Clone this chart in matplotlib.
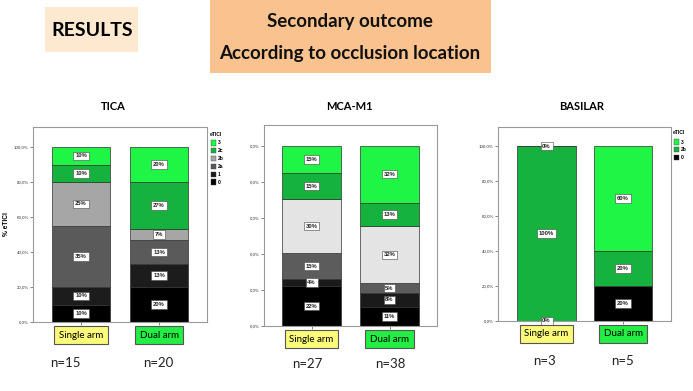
import numpy as np
import matplotlib.pyplot as plt
from matplotlib.patches import Rectangle

W, H = 693, 391

arms = ["Single arm", "Dual arm"]
arm_colors = ["#fbfb7a", "#22ee44"]

# TICA
tica_grades = ["0", "1", "2a", "2b", "2c", "3"]
tica_single = [10, 10, 35, 25, 10, 10]
tica_dual = [20, 13.3, 13.3, 6.7, 26.7, 20]
tica_n = [15, 20]
tica_colors = ["#000000", "#1c1c1c", "#5a5a5a", "#a6a6a6", "#16b23e", "#1ff545"]

# MCA-M1
mca_grades = ["0", "1", "2a", "2b", "2c", "3"]
mca_single = [22.2, 3.7, 14.8, 29.6, 14.8, 14.8]
mca_dual = [10.53, 7.9, 5.3, 31.6, 13.2, 31.6]
mca_n = [27, 38]
mca_colors = ["#000000", "#1a1a1a", "#5c5c5c", "#e4e4e4", "#16b23e", "#1ff545"]

# BASILAR
bas_grades = ["0", "2b", "3"]
bas_single = [0, 100, 0]
bas_dual = [20, 20, 60]
bas_n = [3, 5]
bas_colors = ["#000000", "#16b23e", "#1ff545"]

yticks = [0, 20, 40, 60, 80, 100]
full_ticklabels = ["0,0%", "20,0%", "40,0%", "60,0%", "80,0%", "100,0%"]
cut_ticklabels = ["0,0%"] * 6   # left part hidden behind the TICA picture

fig = plt.figure(figsize=(W / 100, H / 100), dpi=100)
fig.patch.set_facecolor("white")
slide_font = ["Lato", "DejaVu Sans"]
spss_font = ["Liberation Sans", "DejaVu Sans"]


def px_axes(x0, y0, x1, y1):
    return fig.add_axes([x0 / W, 1 - y1 / H, (x1 - x0) / W, (y1 - y0) / H])


def panel(frame, y100, centers, bw, grades, single, dual, colors, ticklabels,
          legend_xy=None, ylabel=None):
    x0, y0, x1, y1 = frame
    ax = px_axes(x0, y0, x1, y1)
    ytop = 100 * (y1 - y0) / (y1 - y100)
    step = centers[1] - centers[0]
    ax.set_ylim(0, ytop)
    ax.set_xlim(-(centers[0] - x0) / step, 1 + (x1 - centers[1]) / step)
    width = bw / step
    for i, vals in enumerate([single, dual]):
        bottom = 0
        for v, c in zip(vals, colors):
            ax.bar(i, v, width, bottom=bottom, color=c, edgecolor="#303030",
                   linewidth=0.5)
            ax.text(i, bottom + v / 2, f"{round(v)}%", ha="center", va="center",
                    fontsize=4.2, fontweight="bold", family=spss_font,
                    color="#222222",
                    bbox=dict(boxstyle="square,pad=0.3", fc="white",
                              ec="#444444", lw=0.4))
            bottom += v
        ax.annotate(arms[i], xy=(i, 0), xycoords=("data", "axes fraction"),
                    xytext=(0, -13), textcoords="offset pixels",
                    ha="center", va="center", fontsize=7, family=slide_font,
                    bbox=dict(boxstyle="square,pad=0.5", fc=arm_colors[i],
                              ec="#555555", lw=0.8))
    ax.set_yticks(yticks)
    ax.set_yticklabels(ticklabels, fontsize=3.2, family=spss_font)
    ax.set_xticks([0, 1])
    ax.set_xticklabels([])
    ax.tick_params(length=2, width=0.5, pad=1, colors="#555555",
                   labelcolor="#333333")
    for s in ax.spines.values():
        s.set_color("#9a9a9a")
        s.set_linewidth(0.8)
    if ylabel:
        ax.set_ylabel(ylabel, fontsize=4.8, fontweight="bold",
                      family=spss_font, labelpad=3)
    if legend_xy:
        lx, ly = legend_xy
        fig.text(lx / W, 1 - ly / H, "eTICI", fontsize=3.6, fontweight="bold",
                 family=spss_font, ha="left", va="center")
        for k, (g, c) in enumerate(zip(grades[::-1], colors[::-1])):
            yy = ly + 9 + k * 7.8
            fig.patches.append(Rectangle(((lx + 1) / W, 1 - (yy + 2.6) / H),
                                         5.2 / W, 5.2 / H, fc=c, ec="#444444",
                                         lw=0.3, transform=fig.transFigure))
            fig.text((lx + 7.5) / W, 1 - yy / H, g, fontsize=3.6,
                     fontweight="bold", family=spss_font, ha="left",
                     va="center")
    return ax


panel((33, 127, 207, 322), 147, [81, 159], 58, tica_grades, tica_single,
      tica_dual, tica_colors, full_ticklabels, legend_xy=(210, 134),
      ylabel="% eTICI")
panel((264, 125, 437, 326), 146, [311.5, 389.5], 59, mca_grades, mca_single,
      mca_dual, mca_colors, cut_ticklabels)
panel((498, 127, 671, 321), 146, [546.5, 623], 58.5, bas_grades, bas_single,
      bas_dual, bas_colors, full_ticklabels, legend_xy=(673, 133))

# n labels
n_pos = [(65, 363), (158, 363), (307, 364), (390, 364), (544, 361), (623, 361)]
for (x, y), n in zip(n_pos, tica_n + mca_n + bas_n):
    fig.text(x / W, 1 - y / H, f"n={n}", fontsize=9.5, family=slide_font,
             ha="center", va="center", color="#222222")

# panel titles
for x, t in [(113, "TICA"), (349, "MCA-M1"), (582, "BASILAR")]:
    fig.text(x / W, 1 - 106 / H, t, fontsize=8, fontweight="bold",
             family=slide_font, ha="center", va="center")

# header boxes
fig.patches.append(Rectangle((45 / W, 1 - 52 / H), 93 / W, 45 / H,
                             fc="#fde8d0", ec="none", transform=fig.transFigure))
fig.text(92 / W, 1 - 31 / H, "RESULTS", fontsize=14, fontweight="bold",
         family=slide_font, ha="center", va="center")
fig.patches.append(Rectangle((210 / W, 1 - 73 / H), 281 / W, 73 / H,
                             fc="#f9c28f", ec="none", transform=fig.transFigure))
fig.text(350 / W, 1 - 21 / H, "Secondary outcome", fontsize=13.5,
         fontweight="bold", family=slide_font, ha="center", va="center",
         color="#111111")
fig.text(350 / W, 1 - 54 / H, "According to occlusion location", fontsize=13.5,
         fontweight="bold", family=slide_font, ha="center", va="center",
         color="#111111")

fig.savefig("out.png", dpi=100)
